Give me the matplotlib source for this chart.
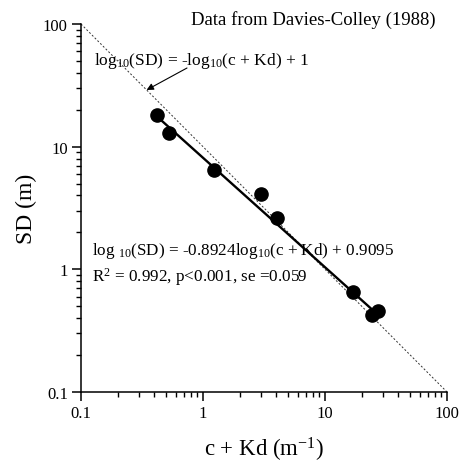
import numpy as np
import matplotlib
matplotlib.use("Agg")
import matplotlib.pyplot as plt
from matplotlib.ticker import LogLocator, FuncFormatter, NullFormatter

plt.rcParams['font.family'] = ['Liberation Serif', 'DejaVu Serif']
plt.rcParams['mathtext.fontset'] = 'custom'
plt.rcParams['mathtext.rm'] = 'Liberation Serif'
plt.rcParams['mathtext.it'] = 'Liberation Serif:italic'

# Data
c_kd = [0.417, 0.529, 1.24, 2.99, 4.04, 17.1, 24.1, 27.3]
sd = [18.1, 13.0, 6.46, 4.09, 2.64, 0.658, 0.425, 0.460]

slope = -0.8924
intercept = 0.9095
tick_vals = [0.1, 1, 10, 100]

W, H = 468, 464
fig = plt.figure(figsize=(W / 100, H / 100), dpi=100)
ax = fig.add_axes([81 / W, 1 - 393 / H, (447 - 81) / W, (393 - 25) / H])

# 1:1 reference line
ref_x = np.array([0.1, 100])
ax.plot(ref_x, 10 ** (-np.log10(ref_x) + 1), color='#333333', lw=0.7,
        linestyle=(0, (2, 2)), zorder=1)

# Regression line
fit_x = np.array([min(c_kd), max(c_kd)])
ax.plot(fit_x, 10 ** (slope * np.log10(fit_x) + intercept), color='black',
        lw=1.7, zorder=2)

ax.plot(c_kd, sd, 'o', color='black', markersize=9.5, zorder=3)

ax.set_xscale('log')
ax.set_yscale('log')
ax.set_xlim(0.1, 100)
ax.set_ylim(0.1, 100)

for s in ['top', 'right']:
    ax.spines[s].set_visible(False)
for s in ['left', 'bottom']:
    ax.spines[s].set_linewidth(1.1)

fmt = FuncFormatter(lambda v, p: '{:g}'.format(v))
for axis in (ax.xaxis, ax.yaxis):
    axis.set_major_locator(LogLocator(base=10, numticks=10))
    axis.set_minor_locator(LogLocator(base=10, subs=np.arange(2, 10), numticks=10))
    axis.set_major_formatter(fmt)
    axis.set_minor_formatter(NullFormatter())
ax.set_xticks(tick_vals)
ax.set_yticks(tick_vals)
ax.tick_params(which='major', direction='out', length=6.5, width=1.1, labelsize=12, pad=3)
ax.tick_params(which='minor', direction='out', length=3.6, width=1.0)

ax.set_xlabel('c + Kd (m$^{-1}$)', fontsize=16.5, labelpad=10)
ax.set_ylabel('SD (m)', fontsize=17, labelpad=4)

fig.text(436 / W, 1 - 20 / H, 'Data from Davies-Colley (1988)', ha='right',
         va='center', fontsize=13.5)
fig.text(94 / W, 1 - 61 / H, 'log$_{10}$(SD) = -log$_{10}$(c + Kd) + 1',
         ha='left', va='center', fontsize=12.5)
fig.text(92 / W, 1 - 251 / H,
         'log $_{10}$(SD) = -0.8924log$_{10}$(c + Kd) + 0.9095',
         ha='left', va='center', fontsize=12.3)
fig.text(92 / W, 1 - 277 / H, 'R$^{2}$ = 0.992, p<0.001, se =0.059',
         ha='left', va='center', fontsize=12.3)

ax.annotate('', xy=(0.345, 10 / 0.345), xycoords='data',
            xytext=(187, H - 69), textcoords='figure pixels',
            arrowprops=dict(arrowstyle='-|>', color='black', lw=0.8,
                            mutation_scale=10, shrinkA=0, shrinkB=0))

fig.savefig('out.png', dpi=100)
